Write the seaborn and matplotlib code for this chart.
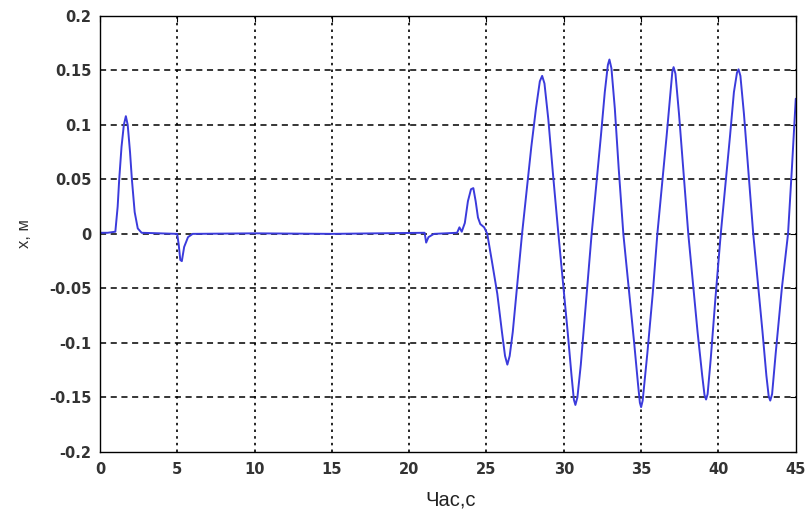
import matplotlib
matplotlib.use("Agg")
import matplotlib.pyplot as plt
import seaborn as sns
import pandas as pd
from matplotlib.ticker import FuncFormatter

time_s = [0.0, 0.5, 1.0, 1.15, 1.25, 1.4, 1.55, 1.68, 1.8, 1.95, 2.07, 2.25, 2.45, 2.7,
          5.0, 5.1, 5.2, 5.3, 5.45, 5.7, 6.0, 10.0, 15.0, 21.0, 21.1, 21.25, 21.6,
          23.1, 23.25, 23.4, 23.6, 23.8, 24.0, 24.15, 24.3, 24.45, 24.6, 24.85,
          25.05, 25.35, 25.7, 26.0, 26.2, 26.35, 26.5, 26.7, 27.0, 27.3,
          27.6, 27.9, 28.2, 28.45, 28.6, 28.75, 29.0, 29.3, 29.65,
          29.95, 30.25, 30.5, 30.65, 30.75, 30.88, 31.1, 31.45, 31.8,
          32.1, 32.4, 32.65, 32.85, 32.95, 33.08, 33.3, 33.55, 33.85,
          34.2, 34.55, 34.8, 34.92, 35.0, 35.1, 35.4, 35.75, 36.05,
          36.35, 36.65, 36.9, 37.02, 37.1, 37.22, 37.45, 37.75, 38.05,
          38.35, 38.65, 38.95, 39.1, 39.2, 39.3, 39.5, 39.8, 40.15,
          40.45, 40.75, 41.0, 41.2, 41.3, 41.42, 41.65, 41.95, 42.25,
          42.55, 42.85, 43.1, 43.25, 43.35, 43.47, 43.7, 44.1, 44.5,
          44.75, 45.0]
x_m = [0.001, 0.001, 0.002, 0.025, 0.05, 0.08, 0.1, 0.108, 0.1, 0.075, 0.05, 0.02, 0.005, 0.001,
       0.0, -0.01, -0.024, -0.025, -0.012, -0.003, 0.0, 0.0005, 0.0, 0.001, -0.008, -0.003, 0.0,
       0.001, 0.006, 0.002, 0.01, 0.03, 0.041, 0.042, 0.03, 0.015, 0.009, 0.006,
       0.0, -0.025, -0.055, -0.09, -0.112, -0.120, -0.112, -0.09, -0.045, 0.0,
       0.04, 0.08, 0.115, 0.140, 0.145, 0.138, 0.105, 0.055, 0.0,
       -0.045, -0.09, -0.13, -0.152, -0.157, -0.150, -0.12, -0.06, 0.0,
       0.045, 0.09, 0.13, 0.155, 0.160, 0.152, 0.115, 0.06, 0.0,
       -0.05, -0.1, -0.138, -0.155, -0.159, -0.153, -0.11, -0.055, 0.0,
       0.045, 0.09, 0.13, 0.149, 0.153, 0.147, 0.11, 0.055, 0.0,
       -0.045, -0.09, -0.13, -0.148, -0.152, -0.147, -0.115, -0.06, 0.0,
       0.045, 0.09, 0.13, 0.148, 0.151, 0.145, 0.11, 0.055, 0.0,
       -0.045, -0.09, -0.13, -0.149, -0.153, -0.147, -0.11, -0.05, 0.0,
       0.06, 0.124]

x_ticks = [0, 5, 10, 15, 20, 25, 30, 35, 40, 45]
y_ticks = [-0.2, -0.15, -0.1, -0.05, 0, 0.05, 0.1, 0.15, 0.2]

sns.set_style("white")
plt.rcParams['font.family'] = ['Liberation Sans', 'DejaVu Sans']

df = pd.DataFrame({"t": time_s, "x": x_m})

fig = plt.figure(figsize=(8.12, 5.14), dpi=100)
ax = fig.add_axes([0.123, 0.121, 0.857, 0.848])
sns.lineplot(data=df, x="t", y="x", ax=ax, color="#3b3bdc", linewidth=1.4)

ax.set_xlim(0, 45)
ax.set_ylim(-0.2, 0.2)
ax.set_xticks(x_ticks)
ax.set_yticks(y_ticks)
ax.yaxis.set_major_formatter(FuncFormatter(lambda v, p: ("%g" % round(v, 2))))

for y in y_ticks[1:-1]:
    ax.axhline(y, color="black", linestyle=(0, (4, 3)), linewidth=1.1, zorder=0)
for xv in x_ticks[1:-1]:
    ax.axvline(xv, color="black", linestyle=(0, (1.5, 2.5)), linewidth=1.2, zorder=0)

for s in ax.spines.values():
    s.set_color("black")
    s.set_linewidth(1.0)
ax.tick_params(direction="in", top=True, right=True, length=4, colors="black")
ax.tick_params(axis="y", pad=6)
ax.tick_params(axis="x", pad=7)
for lab in ax.get_xticklabels() + ax.get_yticklabels():
    lab.set_fontfamily(['DejaVu Sans'])
    lab.set_fontweight('bold')
    lab.set_fontsize(10.5)
    lab.set_color('#333333')

ax.set_xlabel("Час,с", fontsize=14.5, color='#222222')
ax.xaxis.set_label_coords(0.504, -0.088)
ax.set_ylabel("х, м", fontsize=12, color='#333333')
ax.yaxis.set_label_coords(-0.098, 0.5)

fig.savefig("out.png", dpi=100)
